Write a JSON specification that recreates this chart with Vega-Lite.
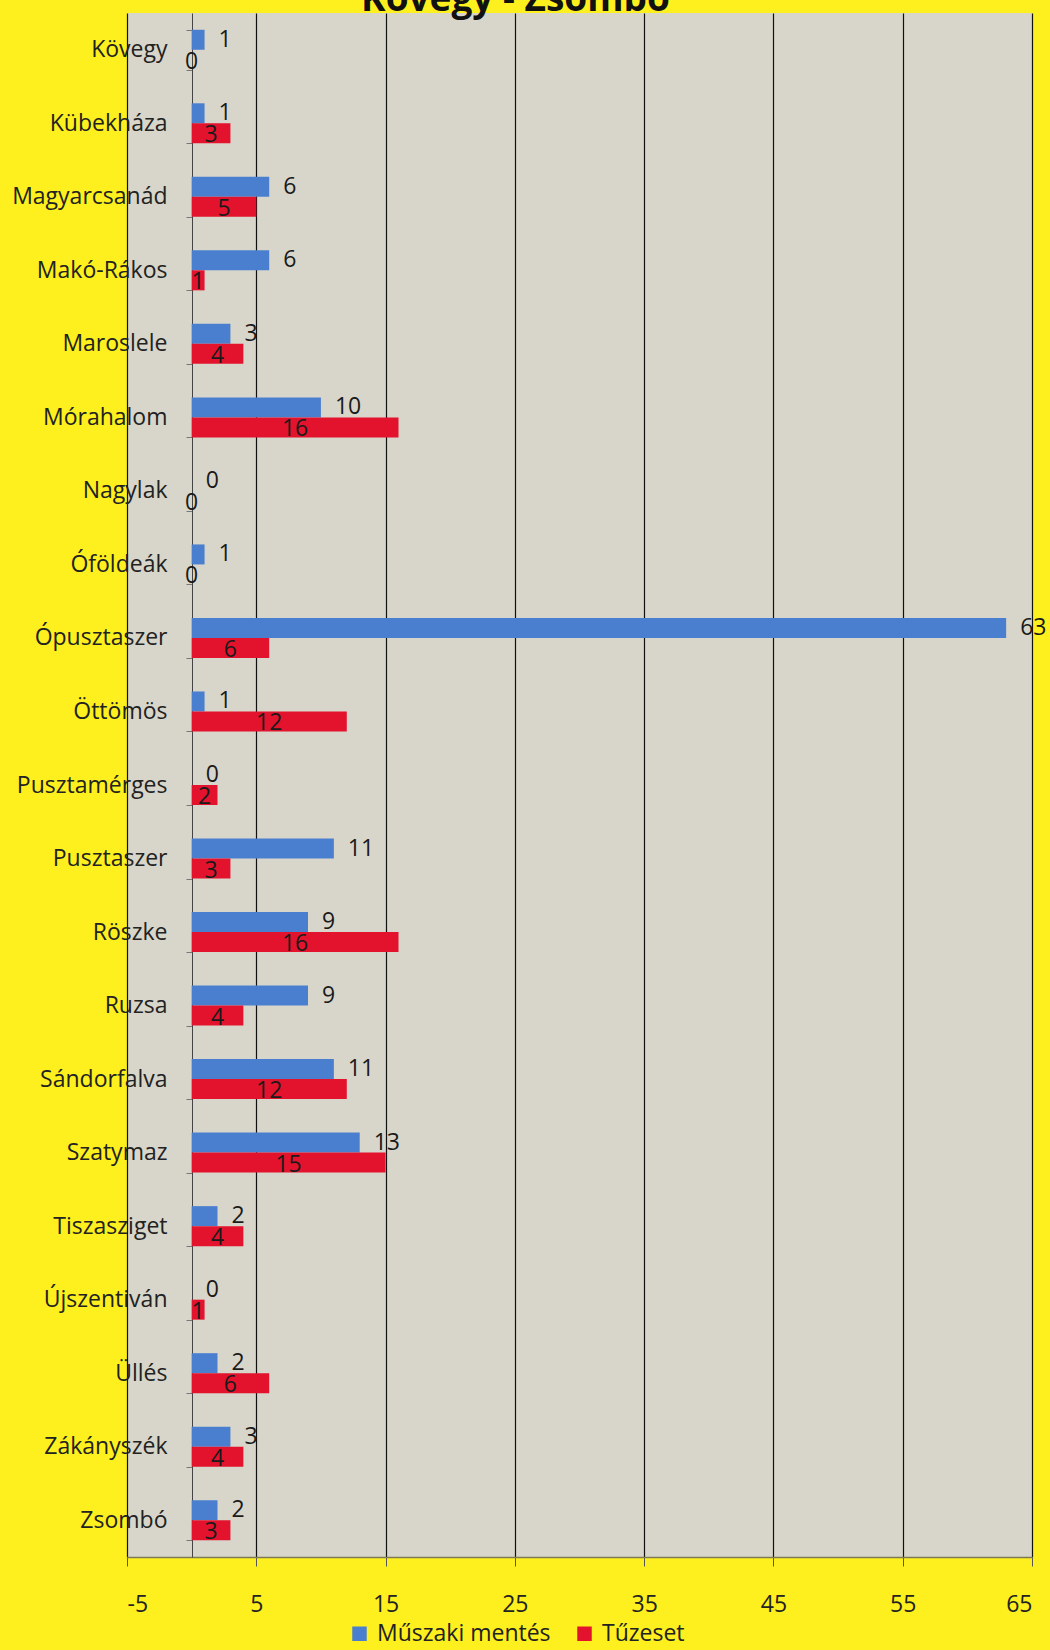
{
  "$schema": "https://vega.github.io/schema/vega-lite/v6.json",
  "width": 905,
  "height": 1544,
  "autosize": {"type": "none"},
  "padding": {"left": 127, "top": 13, "right": 18, "bottom": 93},
  "background": "#fdf01e",
  "title": {"text": "Kövegy - Zsombó", "fontSize": 37, "font": "Open Sans", "fontWeight": "bold", "color": "#111111", "dx": -64, "offset": -17},
  "config": {"view": {"fill": "#d8d6ca", "stroke": null}, "font": "Open Sans"},
  "data": {"values": [
    {"name": "Kövegy", "series": "Műszaki mentés", "value": 1},
    {"name": "Kövegy", "series": "Tűzeset", "value": 0},
    {"name": "Kübekháza", "series": "Műszaki mentés", "value": 1},
    {"name": "Kübekháza", "series": "Tűzeset", "value": 3},
    {"name": "Magyarcsanád", "series": "Műszaki mentés", "value": 6},
    {"name": "Magyarcsanád", "series": "Tűzeset", "value": 5},
    {"name": "Makó-Rákos", "series": "Műszaki mentés", "value": 6},
    {"name": "Makó-Rákos", "series": "Tűzeset", "value": 1},
    {"name": "Maroslele", "series": "Műszaki mentés", "value": 3},
    {"name": "Maroslele", "series": "Tűzeset", "value": 4},
    {"name": "Mórahalom", "series": "Műszaki mentés", "value": 10},
    {"name": "Mórahalom", "series": "Tűzeset", "value": 16},
    {"name": "Nagylak", "series": "Műszaki mentés", "value": 0},
    {"name": "Nagylak", "series": "Tűzeset", "value": 0},
    {"name": "Óföldeák", "series": "Műszaki mentés", "value": 1},
    {"name": "Óföldeák", "series": "Tűzeset", "value": 0},
    {"name": "Ópusztaszer", "series": "Műszaki mentés", "value": 63},
    {"name": "Ópusztaszer", "series": "Tűzeset", "value": 6},
    {"name": "Öttömös", "series": "Műszaki mentés", "value": 1},
    {"name": "Öttömös", "series": "Tűzeset", "value": 12},
    {"name": "Pusztamérges", "series": "Műszaki mentés", "value": 0},
    {"name": "Pusztamérges", "series": "Tűzeset", "value": 2},
    {"name": "Pusztaszer", "series": "Műszaki mentés", "value": 11},
    {"name": "Pusztaszer", "series": "Tűzeset", "value": 3},
    {"name": "Röszke", "series": "Műszaki mentés", "value": 9},
    {"name": "Röszke", "series": "Tűzeset", "value": 16},
    {"name": "Ruzsa", "series": "Műszaki mentés", "value": 9},
    {"name": "Ruzsa", "series": "Tűzeset", "value": 4},
    {"name": "Sándorfalva", "series": "Műszaki mentés", "value": 11},
    {"name": "Sándorfalva", "series": "Tűzeset", "value": 12},
    {"name": "Szatymaz", "series": "Műszaki mentés", "value": 13},
    {"name": "Szatymaz", "series": "Tűzeset", "value": 15},
    {"name": "Tiszasziget", "series": "Műszaki mentés", "value": 2},
    {"name": "Tiszasziget", "series": "Tűzeset", "value": 4},
    {"name": "Újszentiván", "series": "Műszaki mentés", "value": 0},
    {"name": "Újszentiván", "series": "Tűzeset", "value": 1},
    {"name": "Üllés", "series": "Műszaki mentés", "value": 2},
    {"name": "Üllés", "series": "Tűzeset", "value": 6},
    {"name": "Zákányszék", "series": "Műszaki mentés", "value": 3},
    {"name": "Zákányszék", "series": "Tűzeset", "value": 4},
    {"name": "Zsombó", "series": "Műszaki mentés", "value": 2},
    {"name": "Zsombó", "series": "Tűzeset", "value": 3}
  ]},
  "encoding": {
    "y": {
      "field": "name", "type": "nominal", "sort": null,
      "scale": {"paddingInner": 0.456, "paddingOuter": 0.228},
      "axis": {"title": null, "offset": -65, "labelFontSize": 23, "labelColor": "#222222", "labelPadding": 19, "labelLimit": 300, "tickSize": 6, "tickColor": "#777777", "domainColor": "#444444", "tickBand": "extent", "grid": false}
    },
    "yOffset": {"field": "series", "type": "nominal", "scale": {"domain": ["Műszaki mentés", "Tűzeset"], "paddingInner": 0}}
  },
  "layer": [
    {
      "mark": {"type": "bar"},
      "encoding": {
        "x": {
          "field": "value", "type": "quantitative",
          "scale": {"domain": [-5, 65], "nice": false, "zero": false},
          "axis": {"title": null, "values": [-5, 5, 15, 25, 35, 45, 55, 65], "labelExpr": "toString(datum.value)", "grid": true, "gridColor": "#111111", "gridWidth": 1.2, "gridOpacity": 1, "domainColor": "#7d7a55", "domainWidth": 1.5, "tickColor": "#555555", "tickSize": 9, "labelFontSize": 23, "labelColor": "#222222", "labelPadding": 27}
        },
        "color": {
          "field": "series", "type": "nominal",
          "scale": {"domain": ["Műszaki mentés", "Tűzeset"], "range": ["#4a7fcf", "#e3132d"]},
          "legend": {"title": null, "orient": "none", "legendX": 221, "legendY": 1609, "direction": "horizontal", "symbolType": "square", "symbolSize": 210, "symbolStrokeWidth": 0, "labelFontSize": 23, "labelLimit": 500, "labelColor": "#222222", "columnPadding": 22, "labelOffset": 6}
        }
      }
    },
    {
      "transform": [{"filter": "datum.series == 'Műszaki mentés'"}],
      "mark": {"type": "text", "align": "left", "baseline": "middle", "dx": 14, "fontSize": 23, "color": "#1a1a1a"},
      "encoding": {
        "x": {"field": "value", "type": "quantitative", "scale": {"domain": [-5, 65], "nice": false, "zero": false}, "axis": null},
        "text": {"field": "value", "type": "quantitative"}
      }
    },
    {
      "transform": [{"filter": "datum.series == 'Tűzeset'"}],
      "mark": {"type": "text", "align": "center", "baseline": "middle", "dy": 2, "fontSize": 23, "color": "#1a1a1a"},
      "encoding": {
        "x": {"field": "value", "type": "quantitative", "scale": {"domain": [-10, 130], "nice": false, "zero": false}, "axis": null},
        "text": {"field": "value", "type": "quantitative"}
      }
    }
  ],
  "resolve": {"scale": {"x": "independent"}}
}
